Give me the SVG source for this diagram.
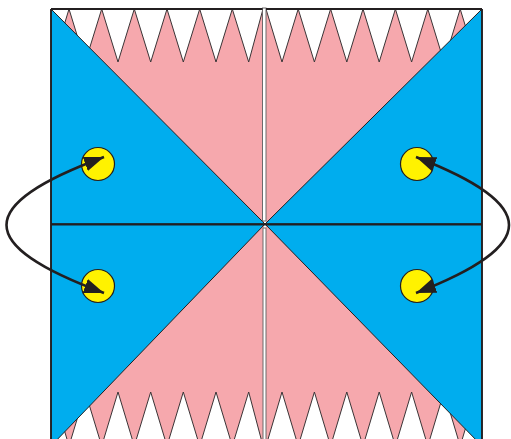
<svg xmlns="http://www.w3.org/2000/svg" width="511" height="439" viewBox="0 0 511 439">
<defs>
<style>
.pink{fill:#f6a8ad;stroke:none}
.teeth{fill:#ffffff;stroke:#3a3436;stroke-width:1;stroke-linejoin:miter}
.blue{fill:#00adee;stroke:#231f20;stroke-width:1}
.edge{stroke:#231f20;stroke-width:1.8;fill:none}
.strip{fill:#ffffff;stroke:#6d6a6b;stroke-width:1}
.dot{fill:#fff200;stroke:#231f20;stroke-width:1.2}
.conn{fill:none;stroke:#231f20;stroke-width:2.6}
</style>
<clipPath id="cl"><rect x="51" y="0" width="213" height="450"/></clipPath>
<clipPath id="cr"><rect x="266" y="0" width="216" height="450"/></clipPath>
<marker id="ah" markerUnits="userSpaceOnUse" markerWidth="22" markerHeight="16" refX="20" refY="7.5" orient="auto-start-reverse" viewBox="0 0 22 16">
<path d="M0,0 L20,7.5 L0,15 Z" fill="#231f20"/>
</marker>
</defs>
<rect width="511" height="439" fill="#ffffff"/>
<g id="tile-top-left">
<polygon class="pink" points="51,9 264,9 264,224"/>
<polygon class="teeth" clip-path="url(#cl)" points="36.7,9 53,62 69,9 85.3,62 101.7,9 118,62 134.3,9 150.7,62 167,9 183.3,62 199.7,9 216,62 232.3,9 248.7,62 263,9"/>
<polygon class="blue" points="51,9 265,224 51,224"/>
</g>
<g id="tile-top-right">
<polygon class="pink" points="266,9 482,9 266,224"/>
<polygon class="teeth" clip-path="url(#cr)" points="266,9 282,62 298.2,9 314.4,62 330.6,9 346.8,62 363,9 379.2,62 395.4,9 411.6,62 427.8,9 444,62 460.2,9 476.4,62 492.6,9"/>
<polygon class="blue" points="482,9 265,224 482,224"/>
</g>
<g id="tile-bottom-left">
<polygon class="pink" points="51,446 264,224 264,446"/>
<polygon class="teeth" clip-path="url(#cl)" points="36.7,446 53,392 69,446 85.3,392 101.7,446 118,392 134.3,446 150.7,392 167,446 183.3,392 199.7,446 216,392 232.3,446 248.7,392 263,446"/>
<polygon class="blue" points="51,224 265,224 51,446"/>
</g>
<g id="tile-bottom-right">
<polygon class="pink" points="266,224 482,446 266,446"/>
<polygon class="teeth" clip-path="url(#cr)" points="266,446 282,392 298.2,446 314.4,392 330.6,446 346.8,392 363,446 379.2,392 395.4,446 411.6,392 427.8,446 444,392 460.2,446 476.4,392 492.6,446"/>
<polygon class="blue" points="482,224 265,224 482,446"/>
</g>
<g id="frame">
<rect class="strip" x="262.5" y="8" width="3.5" height="213"/>
<rect class="strip" x="263" y="228" width="3" height="215"/>
<line class="edge" x1="51" y1="9" x2="262.5" y2="9" stroke-width="2.2"/>
<line class="edge" x1="266" y1="9" x2="482" y2="9" stroke-width="2.2"/>
<line class="edge" x1="51" y1="9" x2="51" y2="446"/>
<line class="edge" x1="482" y1="9" x2="482" y2="446"/>
<line class="edge" x1="51" y1="224.5" x2="482" y2="224.5" stroke-width="2.4"/>
</g>
<g id="node-top-left"><circle class="dot" cx="98" cy="164" r="16.5"/></g>
<g id="node-bottom-left"><circle class="dot" cx="98" cy="286" r="16.5"/></g>
<g id="node-top-right"><circle class="dot" cx="417" cy="164" r="16.5"/></g>
<g id="node-bottom-right"><circle class="dot" cx="417" cy="286" r="16.5"/></g>
<g id="connectors">
<path class="conn" d="M104,157 C-26,205 -26,245 104,293" marker-start="url(#ah)" marker-end="url(#ah)"/>
<path class="conn" d="M416,157 C540,205 540,245 416,293" marker-start="url(#ah)" marker-end="url(#ah)"/>
</g>
</svg>
